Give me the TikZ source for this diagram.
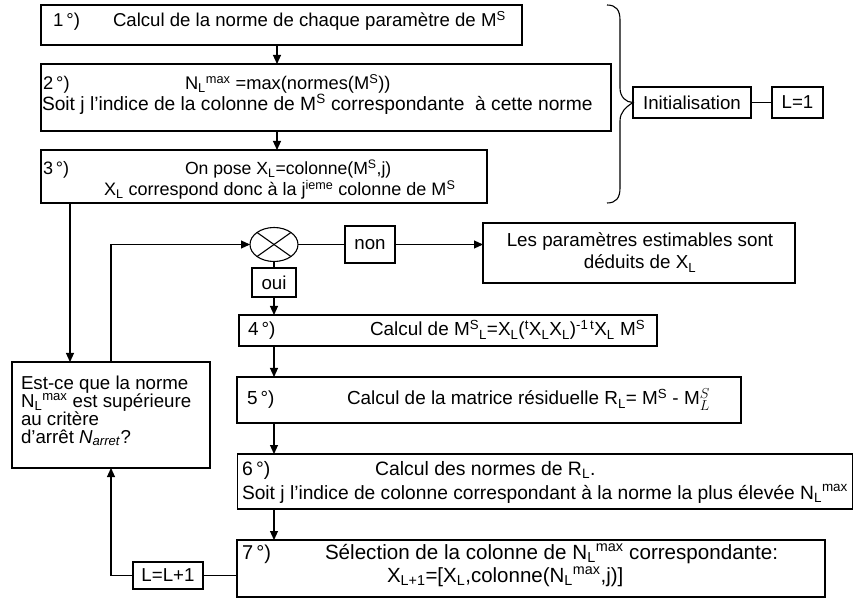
\documentclass[tikz,border=0pt]{standalone}
\usepackage{fontspec}
\setmainfont{Liberation Sans}
\usetikzlibrary{arrows.meta,shapes.geometric}
\tikzset{
  box/.style={draw, line width=1.1pt, inner sep=0pt, outer sep=0pt, rectangle},
  txt/.style={inner sep=0pt, outer sep=0pt, anchor=base west, text height=12pt, text depth=3pt, font=\fontsize{#1}{#1}\selectfont},
  txt/.default=18,
  ctxt/.style={inner sep=0pt, outer sep=0pt, anchor=base, text height=12pt, text depth=3pt, font=\fontsize{#1}{#1}\selectfont},
  ctxt/.default=18.8,
  boxtxt/.style={font=\fontsize{18.7}{18.7}\selectfont},
  ln/.style={line width=1.1pt},
  arr/.style={line width=1.1pt, -{Triangle[length=9pt,width=8pt]}},
}
\newcommand{\sbL}{\textsubscript{L}}
\newcommand{\spS}{\textsuperscript{S}}
\newcommand{\Nmax}{N\textsubscript{L}\textsuperscript{max}}
\begin{document}
\begin{tikzpicture}[x=1pt,y=-1pt]
\useasboundingbox (0,0) rectangle (854,601);
% boxes
\node[box, minimum width=481pt, minimum height=40pt] (b1) at (281.5,25) {};
\node[box, minimum width=570pt, minimum height=67pt] (b2) at (326,97.5) {};
\node[box, minimum width=446pt, minimum height=53pt] (b3) at (264,176.5) {};
\node[box, minimum width=418pt, minimum height=31pt] (b4) at (448,330.5) {};
\node[box, minimum width=504pt, minimum height=46pt] (b5) at (489,400) {};
\node[box, minimum width=615pt, minimum height=55pt] (b6) at (545,481.5) {};
\node[box, minimum width=588pt, minimum height=57pt] (b7) at (531,568.5) {};
\node[box, minimum width=198pt, minimum height=106pt] (est) at (111,415) {};
\node[box, minimum width=312pt, minimum height=60pt] (les) at (639,253) {};
\node[box, boxtxt, minimum width=50pt, minimum height=37pt] (non) at (370,244.5) {non};
\node[box, boxtxt, minimum width=44pt, minimum height=29pt] (oui) at (274,282.5) {oui};
\node[draw, ellipse, line width=1.1pt, minimum width=48pt, minimum height=34pt, inner sep=0pt, outer sep=0pt] (cmp) at (274,244.5) {};
\node[box, boxtxt, minimum width=118pt, minimum height=31pt] (init) at (692,102.5) {Initialisation};
\node[box, boxtxt, minimum width=51pt, minimum height=31pt] (l1) at (797.5,102.5) {L=1};
\node[box, boxtxt, minimum width=70pt, minimum height=27pt] (lpl) at (168,575.5) {L=L+1};
% texts
\node[txt=18.6] (t1n) at (53,27) {1\,°)};
\node[txt=18.6] (t1) at (113,27) {Calcul de la norme de chaque paramètre de M\spS};
\node[txt=18.3] (t2n) at (43,90) {2\,°)};
\node[txt=18.3] (t2a) at (185,90) {\Nmax{} =max(normes(M\spS))};
\node[txt=19.2] (t2b) at (42,111) {Soit j l’indice de la colonne de M\spS{} correspondante\ \ à cette norme};
\node[txt=18] (t3n) at (43,175) {3\,°)};
\node[txt=17.6] (t3a) at (185,175) {On pose X\sbL=colonne(M\spS,j)};
\node[txt=18] (t3b) at (104,196) {X\sbL{} correspond donc à la j\textsuperscript{ieme} colonne de M\spS};
\node[txt=18.9] (t4n) at (248,336) {4\,°)};
\node[txt=18.9] (t4) at (370,336) {Calcul de M\spS\sbL=X\sbL(\textsuperscript{t}X\sbL X\sbL)\textsuperscript{-1\,t}X\sbL{} M\spS};
\node[txt=18.9] (t5n) at (247,405) {5\,°)};
\node[txt=18.9] (t5) at (347,405) {Calcul de la matrice résiduelle R\sbL= M\spS{} - \(\mathrm{M}_L^S\)};
\node[txt=19.4] (t6n) at (242,475) {6\,°)};
\node[txt=19.4] (t6a) at (375,475) {Calcul des normes de R\sbL.};
\node[txt=19.2] (t6b) at (242,499) {Soit j l’indice de colonne correspondant à la norme la plus élevée \Nmax};
\node[txt=20] (t7n) at (242,559) {7\,°)};
\node[txt=20.6] (t7a) at (325,559) {Sélection de la colonne de \Nmax{} correspondante:};
\node[txt=20.5] (t7b) at (387,582) {X\textsubscript{L+1}=[X\sbL,colonne(\Nmax,j)]};
\node[txt=18.7] (te1) at (21,389) {Est-ce que la norme};
\node[txt=18.7] (te2) at (21,407) {\Nmax{} est supérieure};
\node[txt=18.7] (te3) at (21,425) {au critère};
\node[txt=18.7] (te4) at (21,443) {d’arrêt \textit{N}\textsubscript{\textit{arret}}?};
\node[ctxt] (tl1) at (640,247) {Les paramètres estimables sont};
\node[ctxt] (tl2) at (640,269) {déduits de X\sbL};
% cross in comparator
\draw[ln] (cmp.north east) -- (cmp.south west);
\draw[ln] (cmp.north west) -- (cmp.south east);
% coordinates
\coordinate (ax) at (277,0);
\coordinate (bx) at (70,0);
% connectors
\draw[arr] (b1.south -| ax) -- (b2.north -| ax);
\draw[arr] (b2.south -| ax) -- (b3.north -| ax);
\draw[arr] (b3.south -| bx) -- (est.north -| bx);
\draw[arr] (est.north) |- (cmp.west);
\draw[ln] (cmp.east) -- (non.west);
\draw[arr] (non.east) -- (non.east -| les.west);
\draw[ln] (cmp.south) -- (oui.north);
\draw[arr] (oui.south) -- (b4.north -| oui.south);
\draw[arr] (b4.south -| oui.south) -- (b5.north -| oui.south);
\draw[arr] (b5.south -| oui.south) -- (b6.north -| oui.south);
\draw[arr] (b6.south -| oui.south) -- (b7.north -| oui.south);
\draw[ln] (lpl.east) -- (lpl.east -| b7.west);
\draw[arr] (lpl.west) -| (est.south);
\draw[ln] (init.east) -- (l1.west);
% brace
\draw[ln] (607,5) .. controls (616,5) and (620,10) .. (620,20) -- (620,88)
  .. controls (620,97) and (626,102.5) .. (init.west)
  .. controls (626,107) and (620,112) .. (620,121) -- (620,188)
  .. controls (620,198) and (616,203) .. (607,203);
\end{tikzpicture}
\end{document}
